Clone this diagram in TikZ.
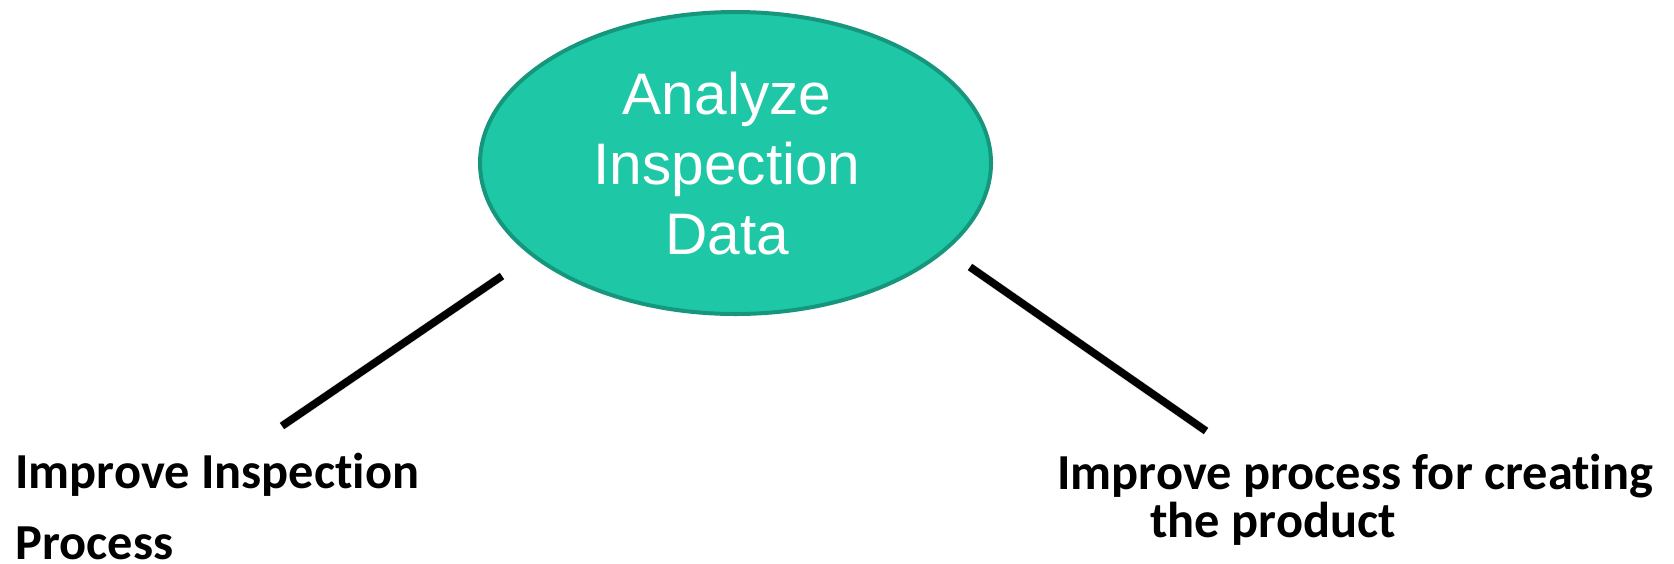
\documentclass[tikz,border=0pt]{standalone}
\usepackage{fontspec}
\setmainfont{Liberation Sans}
\newfontfamily\labelfont[RawFeature={-liga;-dlig}]{Carlito}
\usetikzlibrary{shapes.geometric}
\definecolor{hubfill}{RGB}{30,200,166}
\definecolor{hubedge}{RGB}{22,150,124}
\tikzset{
  hub/.style={ellipse, draw=hubedge, line width=2pt, fill=hubfill,
    minimum width=255.5pt, minimum height=151pt, inner sep=0pt},
  hubtext/.style={text=white, align=center, inner sep=0pt,
    font=\fontsize{29.3}{35}\selectfont},
  outcome/.style={inner sep=0pt, anchor=base west,
    font=\labelfont\bfseries\fontsize{25.2}{30}\selectfont},
  link/.style={line width=3.8pt, black, line cap=butt},
  linkshade/.style={line width=4.4pt, black, opacity=0.12, line cap=butt}
}
\begin{document}
\begin{tikzpicture}[x=0.5pt, y=-0.5pt]
  \useasboundingbox (0,0) rectangle (1674,563);

  % central activity
  \node[hub] (analyze) at (735.5,163) {};
  \node[hubtext] (analyzetext) at (727,163.5) {Analyze\\Inspection\\Data};

  % outcomes
  \node[outcome] (inspA) at (15,488) {Improve Inspection};
  \node[outcome] (inspB) at (15,559) {Process};
  \node[outcome] (prodA) at (1057,489) {Improve process for creating};
  \node[outcome] (prodB) at (1150,537) {the product};

  % connector end points
  \coordinate (lefttop) at (502,276);
  \coordinate (leftbot) at (282,426);
  \coordinate (righttop) at (970,267);
  \coordinate (rightbot) at (1206,431);

  % soft shadows under the connectors
  \draw[linkshade, xshift=1.5pt, yshift=-1.5pt] (lefttop) -- (leftbot);
  \draw[linkshade, xshift=1.5pt, yshift=-1.5pt] (righttop) -- (rightbot);

  % connectors
  \draw[link] (lefttop) -- (leftbot);
  \draw[link] (righttop) -- (rightbot);
\end{tikzpicture}
\end{document}
